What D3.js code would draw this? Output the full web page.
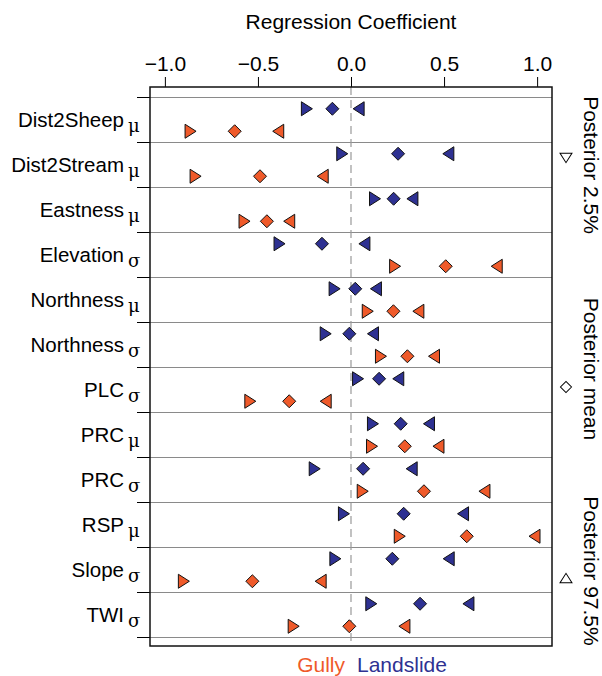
<!DOCTYPE html>
<html>
<head>
<meta charset="utf-8">
<script src="https://cdn.jsdelivr.net/npm/d3@7"></script>
<style>
  body { margin: 0; background: #fff; }
  text { font-family: "Liberation Sans", Arial, Helvetica, sans-serif; fill: #000; }
</style>
</head>
<body>
<script>
// variables (row labels) and their subscripts
var vars = ["Dist2Sheep", "Dist2Stream", "Eastness", "Elevation", "Northness", "Northness",
            "PLC", "PRC", "PRC", "RSP", "Slope", "TWI"];
var subs = ["μ", "μ", "μ", "σ", "μ", "σ", "σ", "μ", "σ", "μ", "σ", "σ"];

// landslide posterior 2.5%, mean, 97.5%
var lsLow  = [-0.237, -0.047, 0.129, -0.384, -0.088, -0.136, 0.038, 0.118, -0.195, -0.038, -0.084, 0.109];
var lsMean = [-0.100, 0.253, 0.229, -0.156, 0.023, -0.009, 0.151, 0.267, 0.065, 0.283, 0.222, 0.371];
var lsHigh = [0.041, 0.523, 0.330, 0.072, 0.134, 0.118, 0.254, 0.419, 0.326, 0.602, 0.525, 0.631];

// gully posterior 2.5%, mean, 97.5%
var guLow  = [-0.862, -0.835, -0.572, 0.237, 0.090, 0.161, -0.541, 0.113, 0.063, 0.262, -0.898, -0.308];
var guMean = [-0.625, -0.489, -0.452, 0.509, 0.228, 0.303, -0.332, 0.289, 0.392, 0.622, -0.530, -0.009];
var guHigh = [-0.391, -0.152, -0.332, 0.783, 0.362, 0.446, -0.136, 0.470, 0.717, 0.986, -0.163, 0.287];

var xTicks = [-1, -0.5, 0, 0.5, 1];
var legendItems = ["Posterior 2.5%", "Posterior mean", "Posterior 97.5%"];

var width = 602, height = 676;
var gullyCol = "#ef5a2a", slideCol = "#2e3192";

var svg = d3.select("body").append("svg")
    .attr("width", width)
    .attr("height", height);

var x = d3.scaleLinear().domain([-1.08, 1.08]).range([150, 552]);
// row boundaries
var y = d3.scaleLinear().domain([0, vars.length]).range([97.5, 637.5]);

var boxTop = 87, boxBottom = 646;

// row separator lines
svg.append("g")
    .selectAll("line")
    .data(d3.range(vars.length + 1))
    .enter().append("line")
    .attr("x1", x.range()[0]).attr("x2", x.range()[1])
    .attr("y1", function(d) { return y(d); })
    .attr("y2", function(d) { return y(d); })
    .style("stroke", "#8a8a8a")
    .style("stroke-width", 1);

// left ticks at row boundaries
svg.append("g")
    .selectAll("line")
    .data(d3.range(vars.length + 1))
    .enter().append("line")
    .attr("x1", 137).attr("x2", x.range()[0])
    .attr("y1", function(d) { return y(d); })
    .attr("y2", function(d) { return y(d); })
    .style("stroke", "#000")
    .style("stroke-width", 1);

// zero reference line
svg.append("line")
    .attr("x1", x(0)).attr("x2", x(0))
    .attr("y1", boxTop).attr("y2", boxBottom)
    .style("stroke", "#999")
    .style("stroke-width", 1.2)
    .style("stroke-dasharray", "8,5");

// top axis
var xAxis = d3.axisTop(x)
    .tickValues(xTicks)
    .tickSize(10)
    .tickPadding(6)
    .tickFormat(function(d) { return d3.format(".1f")(d).replace("-", "\u2212"); });

var axisG = svg.append("g")
    .attr("transform", "translate(0," + boxTop + ")")
    .call(xAxis);
axisG.select(".domain").remove();
axisG.selectAll("text")
    .style("font-size", "21px")
    .style("font-family", '"Liberation Sans", Arial, sans-serif')
    .attr("fill", "#000");
axisG.selectAll("line").style("stroke", "#000");

svg.append("text")
    .attr("x", (x.range()[0] + x.range()[1]) / 2)
    .attr("y", 29)
    .attr("text-anchor", "middle")
    .style("font-size", "21px")
    .text("Regression Coefficient");

// row labels
var labels = svg.append("g");
labels.selectAll("text.main")
    .data(vars)
    .enter().append("text")
    .attr("class", "main")
    .attr("x", 124)
    .attr("y", function(d, i) { return y(i + 0.5) + 7.3; })
    .attr("text-anchor", "end")
    .style("font-size", "20.5px")
    .text(function(d) { return d; });

labels.selectAll("text.sub")
    .data(subs)
    .enter().append("text")
    .attr("class", "sub")
    .attr("x", 128)
    .attr("y", function(d, i) { return y(i + 0.5) + 12; })
    .style("font-size", "18px")
    .style("font-family", '"DejaVu Serif", "Liberation Serif", serif')
    .text(function(d) { return d; });

// marker shapes
var triRight = "M-5.5,-7L5.5,0L-5.5,7Z";
var triLeft = "M5.5,-7L-5.5,0L5.5,7Z";
var diamond = "M0,-6.5L6.5,0L0,6.5L-6.5,0Z";

function drawSeries(vals, shape, col, offset) {
    svg.append("g")
        .selectAll("path")
        .data(vals)
        .enter().append("path")
        .attr("d", shape)
        .attr("transform", function(d, i) {
            return "translate(" + x(d) + "," + y(i + offset) + ")";
        })
        .style("fill", col)
        .style("stroke", "#111")
        .style("stroke-width", 1);
}

drawSeries(lsLow, triRight, slideCol, 0.25);
drawSeries(lsMean, diamond, slideCol, 0.25);
drawSeries(lsHigh, triLeft, slideCol, 0.25);
drawSeries(guLow, triRight, gullyCol, 0.75);
drawSeries(guMean, diamond, gullyCol, 0.75);
drawSeries(guHigh, triLeft, gullyCol, 0.75);

// plot box
svg.append("rect")
    .attr("x", x.range()[0])
    .attr("y", boxTop)
    .attr("width", x.range()[1] - x.range()[0])
    .attr("height", boxBottom - boxTop)
    .style("fill", "none")
    .style("stroke", "#111")
    .style("stroke-width", 1.5);

// right legend (rotated)
var legendY = [165, 369, 571];
var symOffset = [-7, 18, 7];
var legendShapes = [triRight, diamond, triLeft];
var leg = svg.append("g")
    .selectAll("g")
    .data(legendItems)
    .enter().append("g")
    .attr("transform", function(d, i) { return "translate(584," + legendY[i] + ") rotate(90)"; });

leg.append("text")
    .attr("text-anchor", "middle")
    .style("font-size", "21px")
    .text(function(d) { return d; });

leg.append("path")
    .attr("d", function(d, i) { return legendShapes[i]; })
    .attr("transform", function(d, i) { return "translate(" + symOffset[i] + ",18) scale(0.85)"; })
    .style("fill", "none")
    .style("stroke", "#000")
    .style("stroke-width", 1.2);

// bottom legend
svg.append("text")
    .attr("x", 345)
    .attr("y", 672)
    .attr("text-anchor", "end")
    .style("font-size", "21px")
    .style("fill", gullyCol)
    .text("Gully");
svg.append("text")
    .attr("x", 357)
    .attr("y", 672)
    .style("font-size", "21px")
    .style("fill", slideCol)
    .text("Landslide");
</script>
</body>
</html>
